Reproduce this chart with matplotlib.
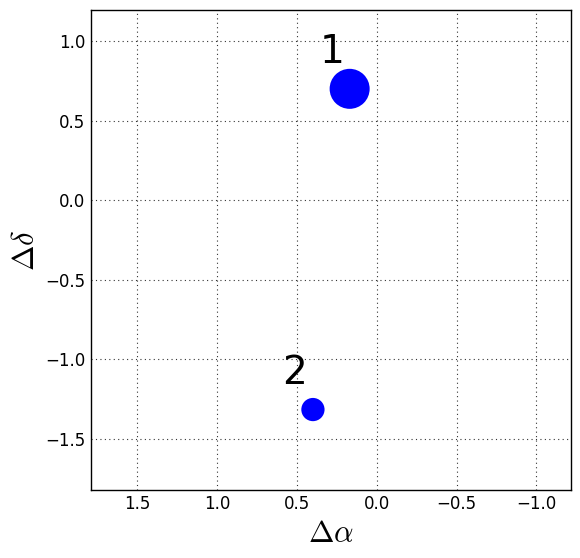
import matplotlib
matplotlib.use('Agg')
import matplotlib.pyplot as plt

plt.rcParams['mathtext.fontset'] = 'cm'

# offsets of the two components
names = ['1', '2']
d_alpha = [0.17, 0.40]
d_delta = [0.70, -1.315]
sizes = [830, 280]

fig = plt.figure(figsize=(5.8, 5.58), dpi=100)
ax = fig.add_axes([0.157, 0.122, 0.827, 0.860])

ax.scatter(d_alpha, d_delta, s=sizes, color='blue', edgecolors='none', zorder=3)
for name, x, y in zip(names, d_alpha, d_delta):
  ax.annotate(name, (x, y), xytext=(-18, 37), textcoords='offset pixels',
              ha='center', va='center', fontsize=28)

ax.set_xlim(1.79, -1.215)
ax.set_ylim(-1.82, 1.195)
ax.set_xticks([1.5, 1.0, 0.5, 0.0, -0.5, -1.0])
ax.set_yticks([1.0, 0.5, 0.0, -0.5, -1.0, -1.5])
ax.tick_params(length=0, labelsize=12, pad=4)
ax.grid(True, color='#333333', linestyle=(0, (1, 3)), linewidth=0.8)
for s in ax.spines.values():
  s.set_linewidth(1.0)

ax.set_xlabel(r'$\Delta\alpha$', fontsize=22, labelpad=4)
ax.set_ylabel(r'$\Delta\delta$', fontsize=22, labelpad=4)

fig.savefig('out.png', dpi=100)
